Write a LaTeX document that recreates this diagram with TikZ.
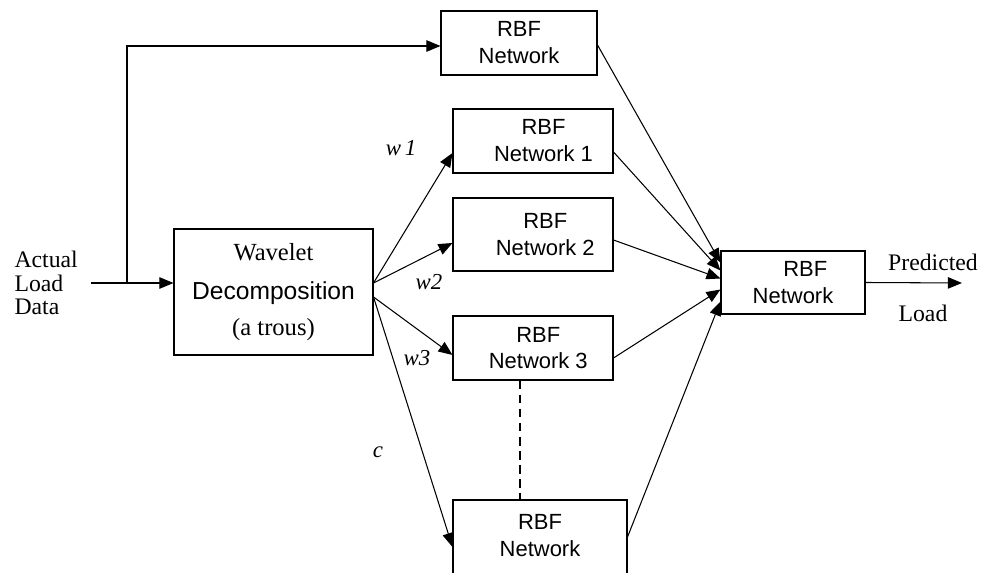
\documentclass[tikz,border=0pt]{standalone}
\usepackage{fontspec}
\setmainfont{Liberation Serif}
\setsansfont{Liberation Sans}
\usetikzlibrary{arrows.meta}

\begin{document}
\begin{tikzpicture}[x=0.02cm,y=-0.02cm,line width=0.6pt,
	box/.style={draw,rectangle,inner sep=0pt,align=center,font=\sffamily\fontsize{12.5}{15.3}\selectfont},
	txt/.style={font=\fontsize{13.5}{13.3}\selectfont},
	wlbl/.style={font=\itshape\fontsize{13}{14}\selectfont},
	arr/.style={-{Triangle[length=8pt,width=6.5pt]}}]
	\useasboundingbox (0,0) rectangle (988,573);
	\clip (0,0) rectangle (988,573);

	% input and decomposition
	\node[txt,align=left,anchor=west,inner sep=0pt] (inp) at (14,283) {Actual\\Load\\Data};
	\node[box,minimum width=3.98cm,minimum height=2.52cm] (wav) at (273.5,292) {{\rmfamily\fontsize{14}{17}\selectfont Wavelet}\\[7pt]{\fontsize{14}{17}\selectfont Decomposition}\\[5.5pt]{\rmfamily\fontsize{14}{17}\selectfont (a trous)}};
	\coordinate (split) at (127,283);

	% networks
	\node[box,minimum width=3.12cm,minimum height=1.28cm] (top) at (519,43) {RBF\\Network};
	\node[box,minimum width=3.2cm,minimum height=1.28cm] (net1) at (533,141) {\hspace{12pt}RBF\\\hspace{12pt}Network 1};
	\node[box,minimum width=3.2cm,minimum height=1.46cm] (net2) at (533,234.5) {\hspace{14pt}RBF\\\hspace{14pt}Network 2};
	\node[box,minimum width=3.2cm,minimum height=1.28cm] (net3) at (533,348) {\hspace{6pt}RBF\\\hspace{6pt}Network 3};
	\node[box,minimum width=3.48cm,minimum height=2cm,
		label={[box,draw=none,anchor=north,yshift=-8pt]north:RBF\\Network}] (netc) at (540,550) {};
	\node[box,minimum width=2.88cm,minimum height=1.26cm] (final) at (793,282.5) {\hspace{14pt}RBF\\Network};
	\coordinate (out) at (962,283);

	% connectors
	\draw (inp.east) ++(13,0) -- (split);
	\draw[arr] (split) -- (split -| wav.west);
	\draw[arr] (split) |- ([shift={(0,3)}]top.west);
	\draw[arr] ([shift={(0,-9)}]wav.east) -- ([shift={(0,12)}]net1.west);
	\draw[arr] ([shift={(0,-9)}]wav.east) -- ([shift={(0,8.5)}]net2.west);
	\draw[arr] ([shift={(0,5)}]wav.east) -- ([shift={(0,7)}]net3.west);
	\draw[arr] ([shift={(0,5)}]wav.east) -- ([shift={(0,-3)}]netc.west);
	\draw[dash pattern=on 5pt off 3pt] ([shift={(-13,0)}]net3.south) -- ([shift={(-20,0)}]netc.north);

	\draw[arr] ([shift={(0,2)}]top.east) -- ([shift={(0,-20)}]final.west);
	\draw[arr] ([shift={(0,11)}]net1.east) -- ([shift={(0,-12)}]final.west);
	\draw[arr] ([shift={(0,5.5)}]net2.east) -- ([shift={(0,-4)}]final.west);
	\draw[arr] ([shift={(0,10)}]net3.east) -- ([shift={(0,7)}]final.west);
	\draw[arr] ([shift={(0,-13)}]netc.east) -- ([shift={(0,19)}]final.west);
	\draw[arr] (final.east) -- (out);

	% labels
	\node[wlbl] (w1) at (401,148) {w\,1};
	\node[wlbl] (w2) at (429,282) {w2};
	\node[wlbl] (w3) at (417,358) {w3};
	\node[wlbl] (c) at (378,452) {c};
	\node[txt] (pred) at (933,262) {Predicted};
	\node[txt] (load) at (923,313) {Load};
\end{tikzpicture}
\end{document}
